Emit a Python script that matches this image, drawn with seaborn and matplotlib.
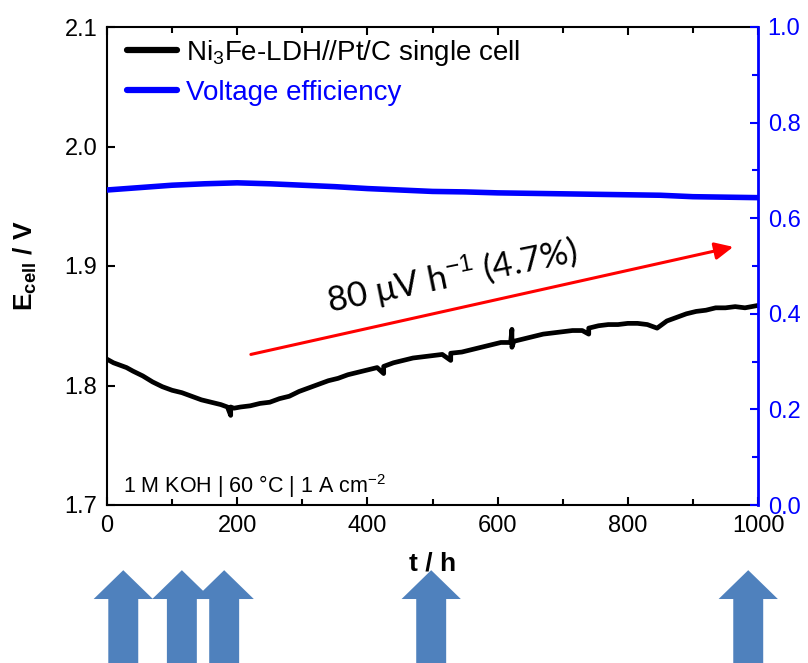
import matplotlib
matplotlib.use("Agg")
import matplotlib.pyplot as plt
import matplotlib.transforms as mtransforms
from matplotlib.patches import FancyArrow
from matplotlib.lines import Line2D
from matplotlib.ticker import MultipleLocator, FormatStrFormatter
import seaborn as sns
import pandas as pd

# ---------------- data ----------------
t_cell = [0, 10, 20, 30, 40, 55, 70, 85, 100, 115, 130, 145, 160, 175, 185, 190, 190, 195,
          205, 220, 235, 250, 265, 280, 295, 310, 325, 340, 355, 370, 385, 400, 415, 425,
          425, 440, 455, 470, 485, 500, 515, 528, 528, 545, 560, 575, 590, 605, 620, 622,
          622, 625, 640, 655, 670, 685, 700, 715, 730, 740, 740, 755, 770, 785, 800, 815,
          830, 845, 860, 875, 890, 905, 920, 935, 950, 965, 980, 1000]
e_cell = [1.822, 1.819, 1.817, 1.815, 1.812, 1.808, 1.803, 1.799, 1.796, 1.794, 1.791, 1.788,
          1.786, 1.784, 1.782, 1.775, 1.782, 1.781, 1.782, 1.783, 1.785, 1.786, 1.789, 1.791,
          1.795, 1.798, 1.801, 1.804, 1.806, 1.809, 1.811, 1.813, 1.815, 1.810, 1.816, 1.819,
          1.821, 1.823, 1.824, 1.825, 1.826, 1.821, 1.827, 1.828, 1.830, 1.832, 1.834, 1.836,
          1.836, 1.847, 1.832, 1.837, 1.839, 1.841, 1.843, 1.844, 1.845, 1.846, 1.846, 1.843,
          1.848, 1.850, 1.851, 1.851, 1.852, 1.852, 1.851, 1.848, 1.854, 1.857, 1.860, 1.862,
          1.863, 1.865, 1.865, 1.866, 1.865, 1.867]

t_ve = [0, 50, 100, 150, 200, 250, 300, 350, 400, 450, 500, 550, 600, 650, 700, 750, 800,
        850, 900, 950, 1000]
ve = [0.659, 0.664, 0.669, 0.672, 0.674, 0.672, 0.669, 0.666, 0.662, 0.659, 0.656, 0.655,
      0.653, 0.652, 0.651, 0.650, 0.649, 0.648, 0.645, 0.644, 0.643]

arrow_times = [25, 115, 180, 498, 985]

label_cell = r"Ni$_{3}$Fe-LDH//Pt/C single cell"
label_ve = "Voltage efficiency"
condition_text = r"1 M KOH | 60 °C | 1 A cm$^{-2}$"
rate_text = r"80 μV h$^{-1}$ (4.7%)"

df_cell = pd.DataFrame({"t": t_cell, "E": e_cell})
df_ve = pd.DataFrame({"t": t_ve, "VE": ve})

# ---------------- style ----------------
sns.set_style("ticks")
plt.rcParams["font.family"] = ["Liberation Sans", "DejaVu Sans"]
plt.rcParams["mathtext.fontset"] = "custom"
plt.rcParams["mathtext.rm"] = "Liberation Sans"
plt.rcParams["mathtext.it"] = "Liberation Sans:italic"
plt.rcParams["mathtext.bf"] = "Liberation Sans:bold"
plt.rcParams["text.color"] = "black"
plt.rcParams["axes.labelcolor"] = "black"
plt.rcParams["xtick.color"] = "black"
plt.rcParams["ytick.color"] = "black"

BLUE = (0, 0, 1)
ARROW_BLUE = "#4F81BD"

fig = plt.figure(figsize=(8.08, 6.63), dpi=100)
ax = fig.add_axes([107 / 808, 158 / 663, 651 / 808, 478 / 663])
ax2 = ax.twinx()

sns.lineplot(data=df_cell, x="t", y="E", ax=ax, color="black", lw=3.4,
             estimator=None, sort=False, legend=False)
sns.lineplot(data=df_ve, x="t", y="VE", ax=ax2, color=BLUE, lw=4.0,
             estimator=None, sort=False, legend=False)

ax.set_xlim(0, 1000)
ax.set_ylim(1.7, 2.1)
ax2.set_ylim(0.0, 1.0)

ax.xaxis.set_major_locator(MultipleLocator(200))
ax.xaxis.set_minor_locator(MultipleLocator(100))
ax.yaxis.set_major_locator(MultipleLocator(0.1))
ax.yaxis.set_major_formatter(FormatStrFormatter("%.1f"))
ax2.yaxis.set_major_locator(MultipleLocator(0.2))
ax2.yaxis.set_minor_locator(MultipleLocator(0.1))
ax2.yaxis.set_major_formatter(FormatStrFormatter("%.1f"))

ax.tick_params(axis="both", which="major", direction="in", length=6, width=1.5,
               labelsize=17, pad=7, top=True, right=False, colors="black")
ax.tick_params(axis="x", which="minor", direction="in", length=4, width=1.5, top=True)
ax2.tick_params(axis="y", which="major", direction="in", length=6, width=1.5,
                labelsize=17, pad=7, colors=BLUE)
ax2.tick_params(axis="y", which="minor", direction="in", length=4, width=1.5, colors=BLUE)

for s in ["left", "bottom", "top"]:
    ax.spines[s].set_linewidth(1.5)
    ax.spines[s].set_color("black")
ax.spines["right"].set_visible(False)
for s in ["left", "bottom", "top"]:
    ax2.spines[s].set_visible(False)
ax2.spines["right"].set_color(BLUE)
ax2.spines["right"].set_linewidth(2.0)

ax.set_xlabel("t / h", fontsize=19, fontweight="bold", color="black")
ax.set_ylabel(r"E$_{\mathbf{cell}}$ / V", fontsize=19, fontweight="bold", color="black")
ax2.set_ylabel("")
ax.xaxis.set_label_coords(0.5, -0.097)
ax.yaxis.set_label_coords(-0.104, 0.5)

# legend
handles = [Line2D([], [], color="black", lw=4.5), Line2D([], [], color=BLUE, lw=4.5)]
ax2.legend(handles, [label_cell, label_ve], loc="upper left", bbox_to_anchor=(0.03, 0.977),
           frameon=False, fontsize=20, handlelength=1.8, handletextpad=0.35,
           labelspacing=0.42, borderpad=0, borderaxespad=0, labelcolor=["black", BLUE])

# condition text
ax.text(0.0246, 0.025, condition_text, transform=ax.transAxes, fontsize=15.5,
        ha="left", va="baseline", color="black")

# red trend arrow
ax.annotate("", xy=(962, 1.916), xytext=(221, 1.826),
            arrowprops=dict(arrowstyle="-|>,head_length=0.55,head_width=0.26",
                            color="red", lw=2.2, mutation_scale=20,
                            shrinkA=0, shrinkB=0))
ax.text(530, 1.8915, rate_text, fontsize=25, rotation=11.5, family=["Lato", "DejaVu Sans"],
        ha="center", va="center", rotation_mode="anchor", color="black")

# bottom marker arrows
blend = mtransforms.blended_transform_factory(ax.transData, fig.transFigure)
for ta in arrow_times:
    arr = FancyArrow(ta, 0.0, 0, 0.140, width=46, head_width=91, head_length=0.0435,
                     length_includes_head=True, transform=blend, clip_on=False,
                     color=ARROW_BLUE, lw=0)
    ax.add_patch(arr)

fig.savefig("out.png", dpi=100)
